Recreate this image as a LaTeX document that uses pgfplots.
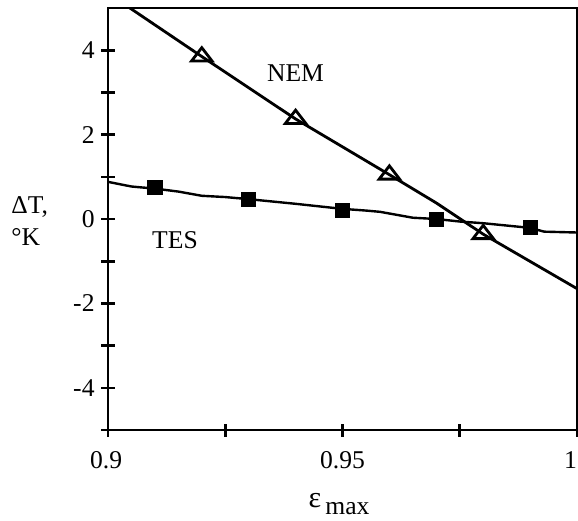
\documentclass[border=0pt]{standalone}
\usepackage{fontspec}
\setmainfont{Liberation Serif}
\usepackage{pgfplots}
\pgfplotsset{compat=1.18}
\begin{document}
\fontsize{12.8}{15}\selectfont
\begin{tikzpicture}
\path[use as bounding box] (-54pt,-45pt) rectangle (235pt,215pt);
\begin{axis}[
  at={(0,0)}, anchor=south west,
  scale only axis, width=234.5pt, height=211pt,
  xmin=0.9, xmax=1, ymin=-5, ymax=5,
  xtick={0.9,0.95,1}, xticklabels={\rlap{\hspace{-0.7em}0.9},0.95,\llap{1}},
  minor xtick={0.925,0.975},
  ytick={-4,-2,0,2,4}, yticklabels={-4,-2,0,2,4},
  minor ytick={-5,-3,-1,1,3},
  xtick pos=bottom, ytick pos=left,
  tick align=center,
  major tick length=6.5pt, minor tick length=6.5pt,
  every tick/.style={black, line width=1.3pt},
  axis line style={line width=1.4pt},
  /pgf/number format/assume math mode=true,
  ticklabel style={font=\fontsize{12.8}{15}\selectfont},
  xticklabel style={yshift=-3pt},
  yticklabel style={xshift=1pt},
]
\addplot[black, line width=1.4pt] coordinates {
 (0.9,5.35) (0.92,3.85) (0.94,2.37) (0.96,1.05) (0.97,0.38) (0.98,-0.36) (1.0,-1.65)};
\addplot[only marks, mark=triangle, mark size=5.9pt, mark options={fill=white, line width=1.4pt, yscale=0.75}] coordinates {
 (0.92,3.85) (0.94,2.37) (0.96,1.05) (0.98,-0.36)};
\addplot[black, line width=1.2pt] coordinates {
 (0.9,0.88) (0.905,0.77) (0.91,0.72) (0.915,0.65) (0.92,0.55) (0.925,0.52) (0.93,0.47)
 (0.94,0.36) (0.95,0.24) (0.955,0.20) (0.958,0.17) (0.965,0.03) (0.97,0.0) (0.975,-0.06)
 (0.98,-0.10) (0.99,-0.21) (0.993,-0.3) (1.0,-0.32)};
\addplot[only marks, mark=square*, mark size=3.5pt, mark options={fill=black}] coordinates {
 (0.91,0.74) (0.93,0.47) (0.95,0.21) (0.97,-0.02) (0.99,-0.21)};
\end{axis}
\node at (93.75pt,178.5pt) {NEM};
\node at (33.5pt,95pt) {TES};
\node[anchor=west, align=left, inner sep=0pt] at (-48.5pt,104.5pt) {ΔT,\\[1pt]°K};
\node[anchor=base] at (115.5pt,-38.5pt) {{\fontsize{15}{17}\selectfont ε}\,\raisebox{-0.6ex}{max}};
\end{tikzpicture}
\end{document}
